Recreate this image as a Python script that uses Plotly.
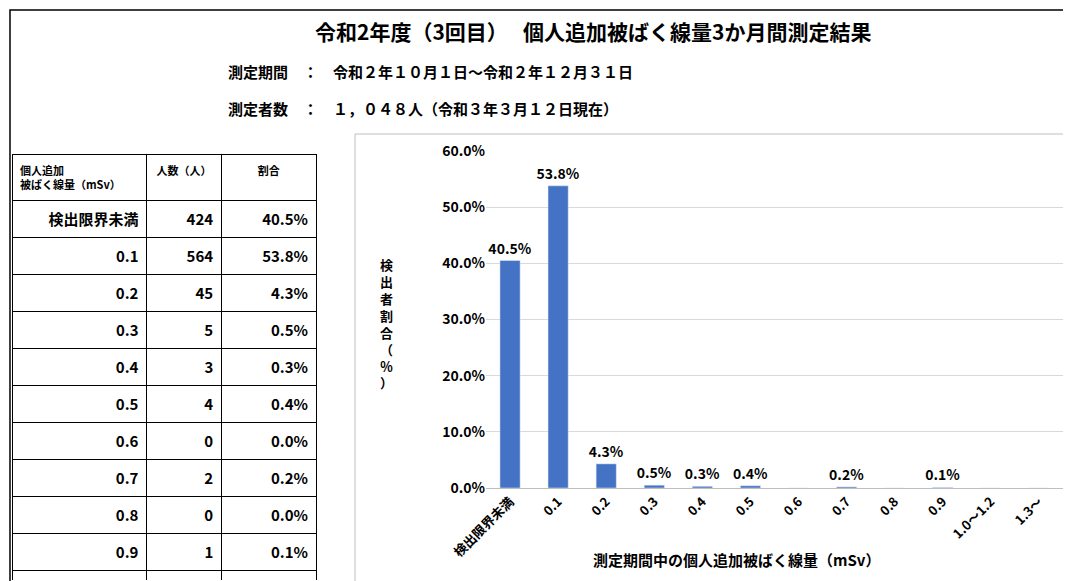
import plotly.graph_objects as go

categories = ["検出限界未満","0.1","0.2","0.3","0.4","0.5","0.6","0.7","0.8","0.9","1.0～1.2","1.3～"]
counts = [424,564,45,5,3,4,0,2,0,1,0,0]
percents = [40.5,53.8,4.3,0.5,0.3,0.4,0.0,0.2,0.0,0.1,0.0,0.0]
total_label = "総計"
total_count = "1,048"
total_pct = "100.0%"

W, H = 1071, 581
F = "Noto Sans CJK JP"
def px(x): return x / W
def py(y): return 1 - y / H
def b(s): return f"<b>{s}</b>"

bar_text = [b(f"{p:.1f}%") if c > 0 else "" for p, c in zip(percents, counts)]

fig = go.Figure()
fig.add_trace(go.Bar(x=categories, y=percents, marker_color="#4472C4",
                     text=bar_text, textposition="outside", cliponaxis=False,
                     constraintext="none",
                     textfont=dict(family=F, size=14, color="black")))

row_labels = categories + [total_label]
row_counts = [str(c) for c in counts] + [total_count]
row_pcts = [f"{p:.1f}%" for p in percents] + [total_pct]
fig.add_trace(go.Table(
    domain=dict(x=[px(4), px(308)], y=[py(572), py(146)]),
    columnwidth=[135, 75, 95],
    header=dict(values=[b("個人追加<br>被ばく線量（mSv）"), b("人数（人）"), b("割合")],
                align=["left", "center", "center"], height=42,
                line=dict(color="black", width=1), fill_color="white",
                font=dict(family=F, size=11, color="black")),
    cells=dict(values=[[b(v) for v in row_labels], [b(v) for v in row_counts],
                       [b(v) for v in row_pcts]],
               align=["right", "right", "right"], height=29,
               line=dict(color="black", width=1), fill_color="white",
               font=dict(family=F, size=15, color="black"))))

fig.update_layout(
    width=W, height=H, margin=dict(l=0, r=0, t=0, b=0, autoexpand=False),
    paper_bgcolor="white", plot_bgcolor="white", showlegend=False,
    font=dict(family=F, color="black"), bargap=0.58,
    xaxis=dict(domain=[px(478), px(1055)], tickangle=-45, automargin=False,
               tickvals=categories, ticktext=[b(c) for c in categories],
               tickfont=dict(family=F, size=13), showline=True,
               linecolor="#BFBFBF", ticks=""),
    yaxis=dict(domain=[py(480), py(143)], range=[0, 60], dtick=10, automargin=False,
               tickvals=[0, 10, 20, 30, 40, 50, 60],
               ticktext=[b(f"{v:.1f}%") for v in [0, 10, 20, 30, 40, 50, 60]],
               showgrid=True, gridcolor="#D9D9D9", tickfont=dict(family=F, size=14),
               zeroline=False, showline=False),
)

fig.add_shape(type="rect", xref="paper", yref="paper", x0=px(2), x1=px(1069),
              y0=py(579), y1=py(2), line=dict(color="black", width=1.5))
fig.add_shape(type="rect", xref="paper", yref="paper", x0=px(347), x1=px(1062),
              y0=py(575), y1=py(126), line=dict(color="#BFBFBF", width=1))

def ann(text, x, y, size, xanchor="center"):
    fig.add_annotation(text=text, x=px(x), y=py(y), xref="paper", yref="paper",
                       showarrow=False, xanchor=xanchor, yanchor="middle",
                       font=dict(family=F, size=size, color="black"))

ann(b("令和2年度（3回目）　 個人追加被ばく線量3か月間測定結果"), 585, 23, 21)
ann(b("測定期間　：　令和２年１０月１日～令和２年１２月３１日"), 218, 63, 15, "left")
ann(b("測定者数　：　１，０４８人（令和３年３月１２日現在）"), 218, 100, 15, "left")
ann(b("測定期間中の個人追加被ばく線量（mSv）"), 728, 551, 15)
ann(b("<br>".join(list("検出者割合（％）"))), 378, 315, 13)

fig.write_html("out.html")
